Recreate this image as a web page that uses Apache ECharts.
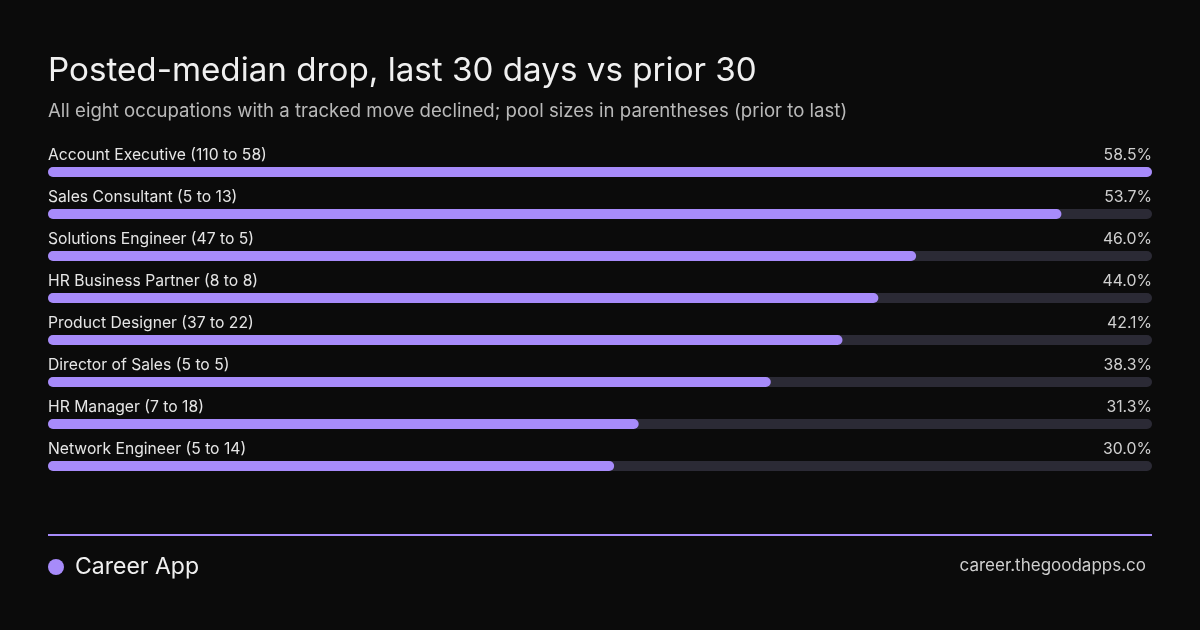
<!DOCTYPE html>
<html>
<head>
<meta charset="utf-8">
<script src="https://cdn.jsdelivr.net/npm/echarts@6/dist/echarts.min.js"></script>
<style>
html,body{margin:0;padding:0;background:#0b0b0b;}
#chart{width:1200px;height:630px;}
</style>
</head>
<body>
<div id="chart"></div>
<script>
const categories = [
  "Account Executive (110 to 58)",
  "Sales Consultant (5 to 13)",
  "Solutions Engineer (47 to 5)",
  "HR Business Partner (8 to 8)",
  "Product Designer (37 to 22)",
  "Director of Sales (5 to 5)",
  "HR Manager (7 to 18)",
  "Network Engineer (5 to 14)"
];
const dropPct = [58.5, 53.7, 46.0, 44.0, 42.1, 38.3, 31.3, 30.0];
const titleText = "Posted-median drop, last 30 days vs prior 30";
const subtitleText = "All eight occupations with a tracked move declined; pool sizes in parentheses (prior to last)";
const brandText = "Career App";
const urlText = "career.thegoodapps.co";

const maxVal = Math.max(...dropPct);
const FONT = "Inter, 'Noto Sans', sans-serif";
const chart = echarts.init(document.getElementById('chart'));
chart.setOption({
  backgroundColor: '#0b0b0b',
  animation: false,
  grid: { left: 48, right: 48, top: 151, bottom: 143 },
  xAxis: { type: 'value', min: 0, max: maxVal, show: false },
  yAxis: { type: 'category', data: categories, inverse: true, show: false },
  series: [
    {
      type: 'bar',
      data: categories.map(() => maxVal),
      barWidth: 10,
      itemStyle: { color: '#2b2a35', borderRadius: 5 },
      silent: true,
      z: 1,
      label: {
        show: true,
        position: ['100%', -12],
        align: 'right',
        verticalAlign: 'middle',
        color: '#cfcfcf',
        fontFamily: FONT,
        fontSize: 15.8,
        formatter: p => dropPct[p.dataIndex].toFixed(1) + '%'
      }
    },
    {
      type: 'bar',
      data: dropPct,
      barWidth: 10,
      barGap: '-100%',
      itemStyle: { color: '#a78bfa', borderRadius: 5 },
      z: 2,
      label: {
        show: true,
        position: [0, -12],
        align: 'left',
        verticalAlign: 'middle',
        color: '#e6e6e6',
        fontFamily: FONT,
        fontSize: 15.7,
        formatter: p => categories[p.dataIndex]
      }
    }
  ],
  graphic: [
    { type: 'text', left: 48, top: 55, style: { text: titleText, fill: '#f0f0f0', font: '33.2px ' + FONT } },
    { type: 'text', left: 48, top: 102, style: { text: subtitleText, fill: '#b9b9b9', font: '18.6px ' + FONT } },
    { type: 'rect', shape: { x: 48, y: 534, width: 1104, height: 2 }, style: { fill: '#a78bfa' } },
    { type: 'circle', shape: { cx: 56, cy: 567, r: 8 }, style: { fill: '#a78bfa' } },
    { type: 'text', left: 75, top: 556, style: { text: brandText, fill: '#f0f0f0', font: '23px ' + FONT } },
    { type: 'text', right: 54, top: 557, style: { text: urlText, fill: '#cfcfcf', font: '17px ' + FONT } }
  ]
});
</script>
</body>
</html>
